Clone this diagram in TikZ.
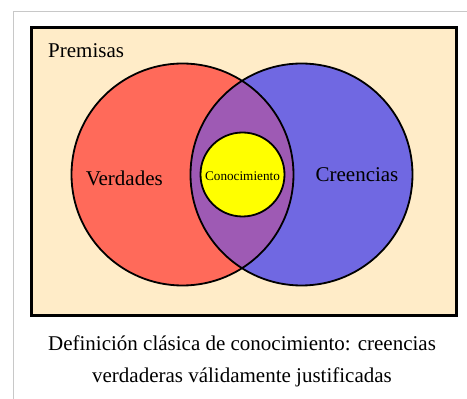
\documentclass[tikz,border=0pt]{standalone}
\usepackage{fontspec}
\setmainfont{Liberation Serif}
\usepackage{tikz}
\usetikzlibrary{positioning}
\definecolor{frame}{HTML}{C8C8C8}
\definecolor{premisebg}{HTML}{FFECC8}
\definecolor{truered}{HTML}{FF6A5A}
\definecolor{beliefblue}{HTML}{7068E2}
\definecolor{overlap}{HTML}{9E5AB4}
\definecolor{knowyellow}{HTML}{FFFF00}
\tikzset{
    every picture/.style={line cap=round,line join=round},
    setcircle/.style={circle,draw=black,line width=1.8pt,
      minimum size=222pt,inner sep=0pt,outer sep=0pt},
    setlabel/.style={font=\fontsize{21}{25}\selectfont,inner sep=0pt},
    smalllabel/.style={font=\fontsize{13.2}{15}\selectfont,inner sep=0pt}
}

\begin{document}
\begin{tikzpicture}[x=1pt,y=1pt]
  \useasboundingbox (0,0) rectangle (467,399);
  % thumbnail frame
  \draw[frame,line width=1pt,line cap=butt] (13,0) -- (13,387) -- (467,387);
  % universe of premises
  \node[draw=black,fill=premisebg,line width=3pt,line join=miter,
        minimum width=425pt,minimum height=288pt,inner sep=0pt,
        anchor=south west] (premisas) at (30,82) {};
  \node[setlabel,anchor=west] (premisaslbl) at (48,348) {Premisas};
  % the two sets
  \node[setcircle,draw=none,fill=truered] (verdades) at (182.5,224.5) {};
  \node[setcircle,draw=none,fill=beliefblue] (creencias) at (301.5,224.5) {};
  \begin{scope}
    \clip (verdades.center) circle (111pt);
    \fill[overlap] (creencias.center) circle (111pt);
  \end{scope}
  \node[setcircle] at (verdades.center) {};
  \node[setcircle] at (creencias.center) {};
  \node[setcircle,minimum size=84pt,fill=knowyellow] (conoc) at (242.5,224.5) {};
  % labels
  \node[setlabel] (verdadeslbl) at (124.3,221) {Verdades};
  \node[setlabel] (creenciaslbl) at (357,224.5) {Creencias};
  \node[smalllabel] (conoclbl) at (242.5,222.5) {Conocimiento};
  % caption
  \node[font=\fontsize{21}{32}\selectfont,align=center,inner sep=0pt]
    (caption) at (242,38)
    {Definición clásica de conocimiento: creencias\\
     verdaderas válidamente justificadas};
\end{tikzpicture}
\end{document}
